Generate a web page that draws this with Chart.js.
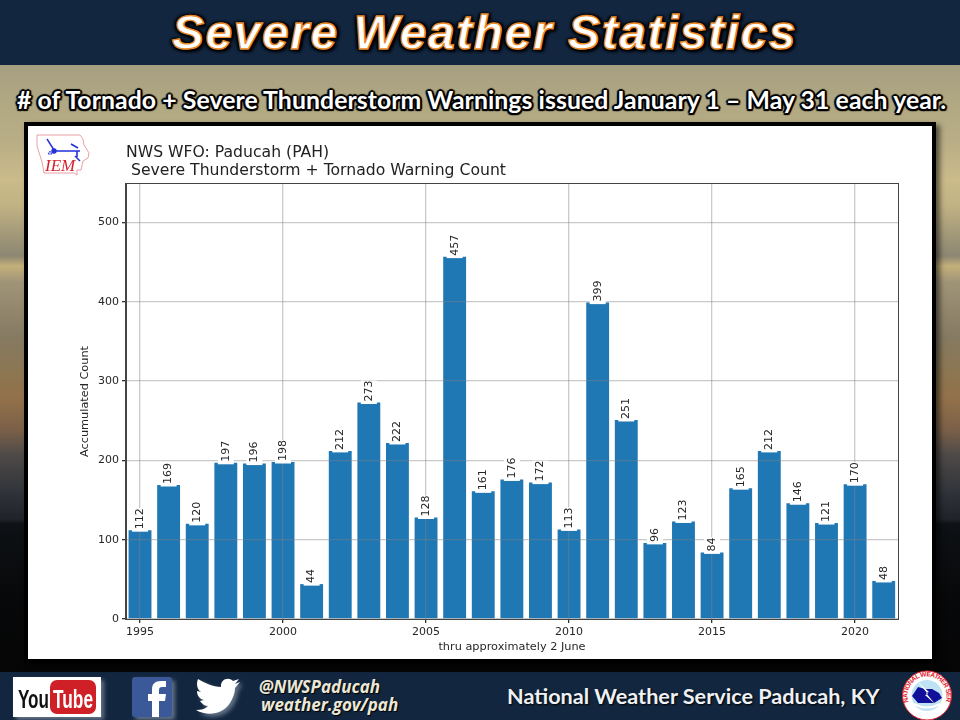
<!DOCTYPE html>
<html><head><meta charset="utf-8">
<script src="https://cdn.jsdelivr.net/npm/chart.js@4"></script>
<style>
html,body{margin:0;padding:0;width:960px;height:720px;overflow:hidden;background:#000}
#sky{position:absolute;left:0;top:0;width:960px;height:720px;background:linear-gradient(180deg,#a69e82 65px,#b0a882 100px,#b8ad86 140px,#cbbb8a 180px,#c2b384 205px,#a59b7a 232px,#8d8672 256px,#c4b07a 266px,#a09478 282px,#857a62 337px,#8d7650 376px,#92714a 400px,#7a6048 430px,#4e4a48 455px,#2e3238 495px,#20242a 519px,#0e1115 524px,#070809 600px,#050506 672px)}
.bar{position:absolute;left:0;width:960px;background:#12263f}
#top{top:0;height:65px}#bot{top:672px;height:48px}
#frame{position:absolute;left:24px;top:122px;width:904px;height:533px;border:4px solid #000;border-bottom-width:5px;background:#fff;box-shadow:4px 3px 5px rgba(0,0,0,.55)}
canvas{display:block}
.t{position:absolute;white-space:nowrap}
#h1{left:172px;top:5px;font:italic bold 48px "Liberation Sans";letter-spacing:1.56px;color:#fff;-webkit-text-stroke:1.4px #e8892a;text-shadow:0 0 3px #000,3px 3px 3px #000,-2px -1px 3px #000,3px -1px 3px #000,-2px 2px 3px #000}
#h2{left:17px;top:85px;font:bold 24.8px "Lato";letter-spacing:.07px;color:#fff;text-shadow:0 0 2px #000,1.5px 1.5px 1px #000,-1.5px -1.5px 1px #000,1.5px -1.5px 1px #000,-1.5px 1.5px 1px #000,2px 0 1px #000,-2px 0 1px #000,0 2px 1px #000,0 -2px 1px #000}
#h3{left:507px;top:683px;font:bold 21.65px "Lato";color:#eef1f5;text-shadow:1px 1px 2px #000}
.soc{font:italic bold 17px "Open Sans";color:#ece8d8;text-shadow:1px 1px 1px #000}
svg{position:absolute;overflow:visible}
.glow{filter:drop-shadow(3px 3px 2px rgba(200,210,225,.45))}
</style></head><body>
<div id="sky"></div>
<div id="top" class="bar"></div>
<div id="bot" class="bar"></div>
<div id="h1" class="t">Severe Weather Statistics</div>
<div id="h2" class="t"># of Tornado + Severe Thunderstorm Warnings issued January 1 – May 31 each year.</div>
<div id="frame"><canvas id="c" width="904" height="533" style="width:904px;height:533px"></canvas></div>
<svg style="left:36px;top:134px" width="56" height="44" viewBox="0 0 56 44">
<path d="M1 1H44L47 5 48 11 53 19 52 24 47 27 45 36H41V41L38 39H8L6 28 1 12Z" fill="#fff" stroke="#e8a0a4" stroke-width="1"/>
<g stroke="#2230d8" stroke-width="1.4" fill="#2230d8"><path d="M11 5 18 16" fill="none"/><circle cx="18" cy="17" r="2"/><path d="M18 17H44M41 17V23M35 10 42 14" fill="none" stroke-width="1.6"/><path d="M12 20l2-3 2 3z" fill="none" stroke-width=".8"/><path d="M39 22l5 5" fill="none"/></g>
<text x="9" y="37" font-family="Liberation Serif" font-style="italic" font-size="17" fill="#d8202c">IEM</text>
</svg>
<svg class="glow" style="left:13px;top:677px" width="88" height="40" viewBox="0 0 88 40">
<rect width="88" height="40" fill="#fff"/>
<rect x="37" y="3" width="46" height="34" rx="7" fill="#cf2027"/>
<text x="5" y="31" font-family="Liberation Sans Narrow,Liberation Sans" font-weight="bold" font-size="25" textLength="31" lengthAdjust="spacingAndGlyphs" fill="#111">You</text>
<text x="40" y="31" font-family="Liberation Sans Narrow,Liberation Sans" font-weight="bold" font-size="25" textLength="40" lengthAdjust="spacingAndGlyphs" fill="#fff">Tube</text>
</svg>
<svg class="glow" style="left:132px;top:677px" width="40" height="40" viewBox="0 0 40 40">
<rect width="40" height="40" rx="3" fill="#3b5998"/>
<path d="M27 40V24H33L34 17H27V13C27 11 28 10 30 10H34V4H29C23 4 20 7 20 12V17H16V24H20V40Z" fill="#fff"/>
</svg>
<svg class="glow" style="left:195px;top:678px" width="46" height="38" viewBox="0 0 46 38">
<path d="M45 4 40 6 44 1 38 3C33-2 25 2 26 9 18 9 10 5 3 1 1 6 2 11 6 14L2 13C2 18 5 21 9 22L5 23C7 26 10 28 13 28 10 31 6 32 1 32 13 39 28 36 35 25 38 20 40 15 40 10Z" fill="#fff"/>
</svg>
<div class="t soc" style="left:259px;top:675px">@NWSPaducah</div>
<div class="t soc" style="left:261px;top:693px">weather.gov/pah</div>
<div id="h3" class="t">National Weather Service Paducah, KY</div>
<svg style="left:901px;top:671px" width="52" height="49" viewBox="0 0 52 49">
<defs><path id="ring" d="M7.5 31A19.5 19.5 0 1 1 44.5 31"/></defs>
<circle cx="26" cy="24.5" r="24.5" fill="#fff" stroke="#e2202c" stroke-width="1"/>
<text font-family="Liberation Sans" font-weight="bold" font-size="6.6" fill="#e2202c"><textPath href="#ring" textLength="86">NATIONAL WEATHER SERVICE</textPath></text>
<circle cx="26" cy="24.5" r="15.5" fill="#bfe2f2"/>
<path d="M11 25 17 16 24 18 31 18 38 22 41 27 33 32H17Z" fill="#10109a"/>
<path d="M16 10 28 21 25 22 34 33 24 24 27 23Z" fill="#fff"/>
<path d="M13 33Q26 40 39 33" fill="none" stroke="#fff" stroke-width="2"/>
</svg>
<script>
const years=[1995,1996,1997,1998,1999,2000,2001,2002,2003,2004,2005,2006,2007,2008,2009,2010,2011,2012,2013,2014,2015,2016,2017,2018,2019,2020,2021];
const counts=[112,169,120,197,196,198,44,212,273,222,128,457,161,176,172,113,399,251,96,123,84,165,212,146,121,170,48];
const titleLines=["NWS WFO: Paducah (PAH)"," Severe Thunderstorm + Tornado Warning Count"];
const xLabel="thru approximately 2 June";
const yLabel="Accumulated Count";
const FONT='"DejaVu Sans"';
const GRID='rgba(128,128,128,.42)';
const barLabels={id:'barLabels',afterDraw(ch){
  const {ctx,scales:{x,y},chartArea:a}=ch;
  ctx.save();ctx.font='11px '+FONT;
  years.forEach((yr,i)=>{
    const px=x.getPixelForValue(yr),py=y.getPixelForValue(counts[i]);
    const t=String(counts[i]),w=ctx.measureText(t).width;
    ctx.fillStyle='#fff';ctx.fillRect(px-8,py-w-1,16,w+2.5);
    ctx.save();ctx.translate(px,py-1);ctx.rotate(-Math.PI/2);
    ctx.fillStyle='#262626';ctx.textAlign='left';ctx.textBaseline='middle';
    ctx.fillText(t,0,0);ctx.restore();
  });
  ctx.strokeStyle='#444';ctx.lineWidth=1;
  ctx.strokeRect(Math.round(a.left)-.5,Math.round(a.top)-.5,Math.round(a.right-a.left)+1,Math.round(a.bottom-a.top)+1);
  ctx.restore();
}};
new Chart(document.getElementById('c'),{
  type:'bar',
  data:{datasets:[{data:years.map((v,i)=>({x:v,y:counts[i]})),backgroundColor:'#1f77b4',borderWidth:0,barPercentage:0.8,categoryPercentage:1}]},
  plugins:[barLabels],
  options:{
    responsive:false,animation:false,devicePixelRatio:1,
    layout:{padding:{left:0,right:34,top:0,bottom:0}},
    plugins:{legend:{display:false},tooltip:{enabled:false},
      title:{display:true,text:titleLines,align:'start',fullSize:false,color:'#222',
        font:{family:FONT,size:15.65,weight:'normal',lineHeight:1.15},padding:{top:18,bottom:4}}},
    scales:{
      x:{type:'linear',min:1994.51,max:2021.5,offset:false,
        afterFit(s){s.height=40},
        grid:{z:1,offset:false,color:GRID,lineWidth:1.3,tickLength:4,tickColor:'#333'},
        border:{color:'#444',z:2},
        ticks:{stepSize:5,includeBounds:false,maxRotation:0,autoSkip:false,padding:3,color:'#262626',font:{family:FONT,size:11},callback:v=>String(v)},
        title:{display:true,text:xLabel,color:'#262626',font:{family:FONT,size:11.3},padding:{top:2,bottom:5}}},
      y:{min:0,max:548.6,
        afterFit(s){s.width=98},
        grid:{z:1,color:GRID,lineWidth:1.3,tickLength:4,tickColor:'#333'},
        border:{color:'#444',z:2},
        ticks:{stepSize:100,includeBounds:false,padding:3,color:'#262626',font:{family:FONT,size:11},callback:v=>String(v)},
        title:{display:true,text:yLabel,color:'#262626',font:{family:FONT,size:11.3},padding:{top:50,bottom:0}}}
    }
  }
});
</script>
</body></html>
